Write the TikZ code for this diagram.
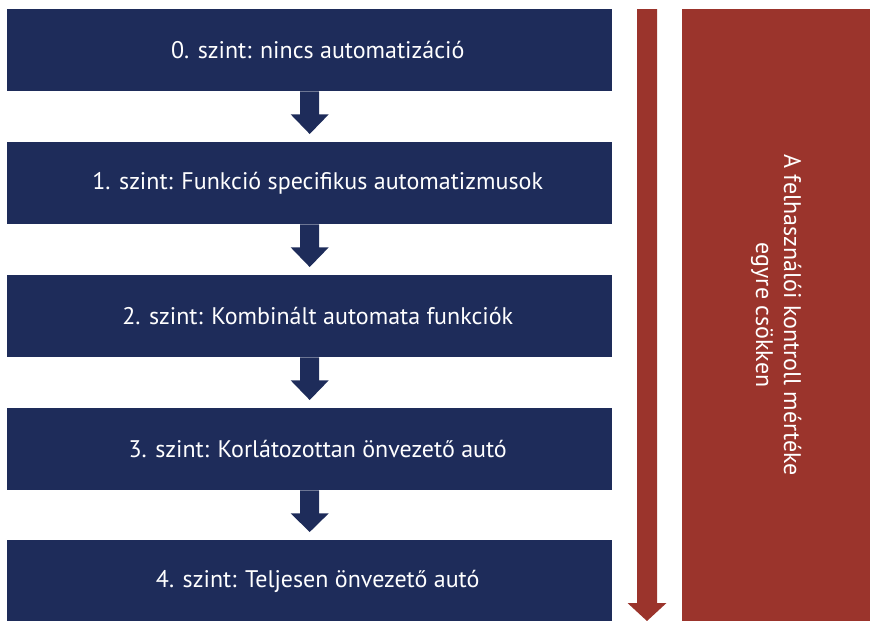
\documentclass[tikz,border=0pt]{standalone}
\usepackage{fontspec}
\setmainfont{PT Sans}
\usetikzlibrary{calc}
\definecolor{navy}{HTML}{1E2C5A}
\definecolor{brick}{HTML}{9B342C}
\begin{document}
\begin{tikzpicture}[x=1pt,y=-1pt,
  lvl/.style={fill=navy, text=white, minimum width=605pt, minimum height=82pt, inner sep=0pt, anchor=north west, font=\fontsize{24}{28}\selectfont, execute at begin node={\hspace*{16pt}}},
  sidebox/.style={fill=brick, minimum width=188pt, minimum height=612pt, inner sep=0pt, anchor=north west},
  sidetext/.style={text=white, rotate=-90, align=center, font=\fontsize{24}{28}\selectfont}
]
\useasboundingbox (0,0) rectangle (870,621);
\node[lvl] (b0) at (7,9) {0. szint: nincs automatizáció};
\node[lvl] (b1) at (7,142) {1. szint: Funkció specifikus automatizmusok};
\node[lvl] (b2) at (7,275) {2. szint: Kombinált automata funkciók};
\node[lvl] (b3) at (7,408) {3. szint: Korlátozottan önvezető autó};
\node[lvl] (b4) at (7,540) {4. szint: Teljesen önvezető autó};
\foreach \a/\b in {b0/b1,b1/b2,b2/b3,b3/b4} {
  \fill[navy] ($(\a.south)+(-9.5,0)$) -- ($(\a.south)+(9.5,0)$) -- ($(\a.south)+(9.5,23)$) -- ($(\a.south)+(19,23)$) -- ($(\b.north)+(0,-8)$) -- ($(\a.south)+(-19,23)$) -- ($(\a.south)+(-9.5,23)$) -- cycle;
}
\node[sidebox] (rb) at (682,9) {};
\node[sidetext] (rt) at (rb.center) {A felhasználói kontroll mértéke\\egyre csökken};
\coordinate (rtop) at (647,9);
\coordinate (rtip) at (647,621);
\fill[brick] ($(rtop)+(-10,0)$) -- ($(rtop)+(10,0)$) -- ($(rtip)+(10,-18)$) -- ($(rtip)+(19.5,-18)$) -- (rtip) -- ($(rtip)+(-19.5,-18)$) -- ($(rtip)+(-10,-18)$) -- cycle;
\end{tikzpicture}
\end{document}
